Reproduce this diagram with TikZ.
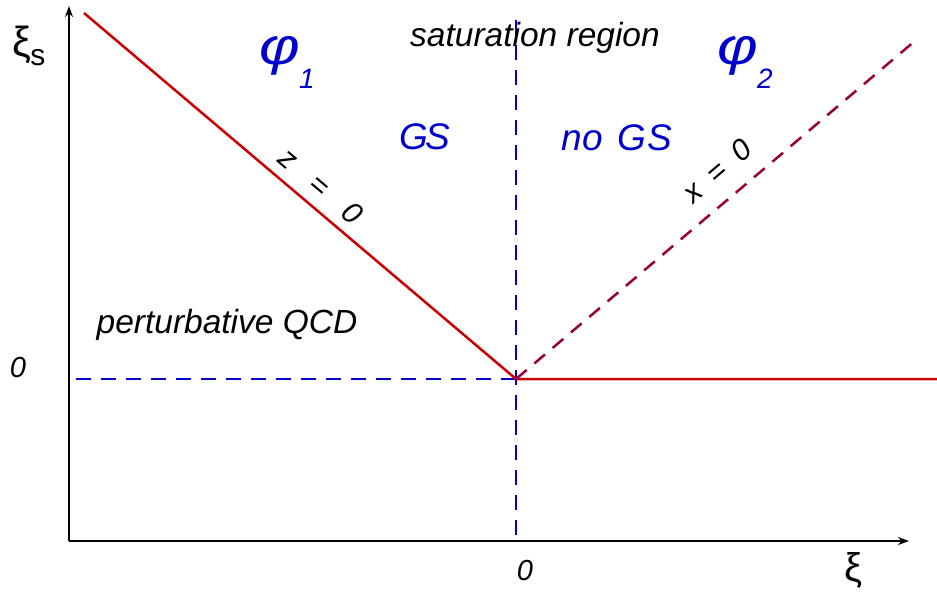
\documentclass[tikz,border=0pt]{standalone}
\usepackage{fontspec}
\setmainfont{Liberation Sans}
\usetikzlibrary{arrows.meta}
\definecolor{lred}{RGB}{204,0,0}
\definecolor{dred}{RGB}{153,0,51}
\definecolor{lblue}{RGB}{0,0,204}
\tikzset{
  axis/.style={-{Stealth[length=11pt,width=8pt]},line width=1.3pt,black},
  redline/.style={lred,line width=2.5pt},
  reddash/.style={dred,line width=2.5pt,dash pattern=on 14pt off 10pt},
  bluedash/.style={lblue,line width=2pt,dash pattern=on 15pt off 10pt},
  lbl/.style={inner sep=0pt,font=\fontsize{33.5}{36}\selectfont\itshape},
  zero/.style={inner sep=0pt,font=\fontsize{29}{32}\selectfont\itshape},
  big/.style={inner sep=0pt,lblue,font=\fontsize{37}{40}\selectfont\itshape},
  phi/.style={inner sep=0pt,lblue,font=\fontsize{52}{56}\selectfont\itshape},
  eq/.style={inner sep=0pt,font=\fontsize{30}{32}\selectfont\itshape},
}
\newcommand{\phisub}[1]{\scalebox{1.2}[1]{φ}\kern-1pt\raisebox{-24pt}{\fontsize{28}{30}\selectfont #1}}
\begin{document}
\begin{tikzpicture}[x=1pt,y=-1pt]
\useasboundingbox (0,0) rectangle (937,592);
\coordinate (O) at (69,541);
\coordinate (ytop) at (69,6);
\coordinate (xend) at (909,541);
\coordinate (C) at (516,379);
\coordinate (Ltop) at (84,13);
\coordinate (Rtop) at (916,40);
\coordinate (Rend) at (937,379);
\coordinate (Vtop) at (516,20);
\coordinate (Vbot) at (516,541);
\coordinate (Hl) at (69,379);
\draw[bluedash] (Vtop) -- (Vbot);
\draw[bluedash] (C) -- (Hl);
\draw[axis] (O) -- (ytop);
\draw[axis] (O) -- (xend);
\draw[redline] (Ltop) -- (C) -- (Rend);
\draw[reddash] (C) -- (Rtop);
\node[inner sep=0pt,font=\fontsize{42}{44}\selectfont] (xis) at (29,46) {ξ\kern-1pt\raisebox{-9pt}{\fontsize{30}{32}\selectfont s}};
\node[inner sep=0pt,font=\fontsize{40}{42}\selectfont] (xi) at (853,570) {ξ};
\node[zero] (zy) at (18,368) {0};
\node[zero] (zx) at (525,571) {0};
\node[lbl] (sat) at (535,38) {saturation region};
\node[lbl] (pqcd) at (227,325) {perturbative QCD};
\node[big] (gs) at (425,137) {G\kern-3pt S};
\node[big] (ngs) at (617,138) {no\hspace{5pt} G\kern1pt S};
\node[phi] (p1) at (287,62) {\phisub{1}};
\node[phi] (p2) at (745,62) {\phisub{2}};
\node[eq,rotate=-40.3] (z0) at (321,186) {z\hspace{17pt} =\hspace{17pt} 0};
\node[eq,rotate=40.3] (x0) at (717,171) {x\hspace{7pt} =\hspace{7pt} 0};
\end{tikzpicture}
\end{document}
